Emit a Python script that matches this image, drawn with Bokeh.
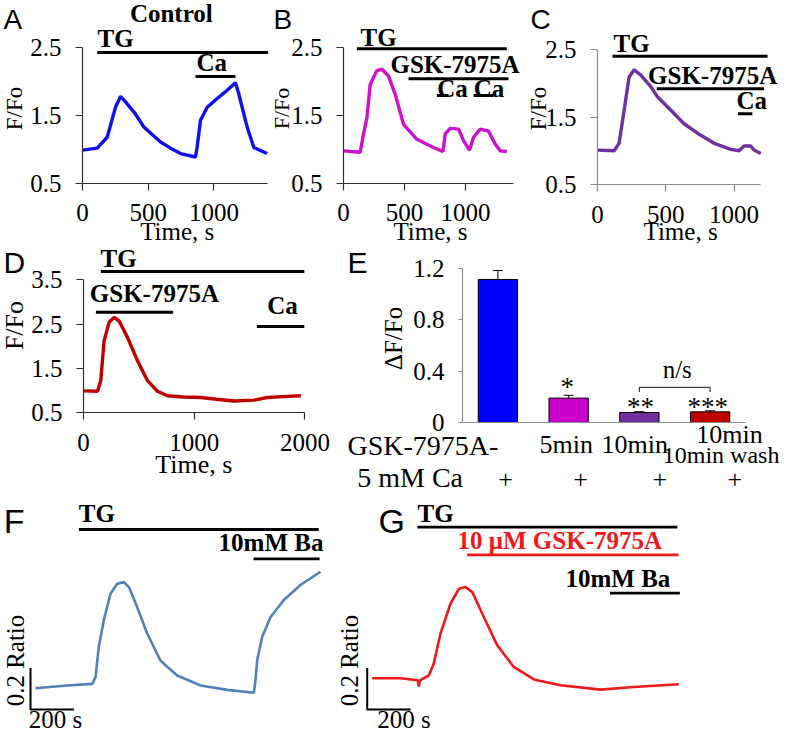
import math
from bokeh.plotting import figure
from bokeh.models import (Label, FixedTicker, Range1d, Whisker, TeeHead,
                          ColumnDataSource)
from bokeh.layouts import row, column
from bokeh.embed import file_html
from bokeh.resources import INLINE

SERIF = "Liberation Serif"
SANS = "Liberation Sans"

# ---------------- data ----------------
# Panel A (Control): time (s) vs F/Fo
A_time = [0, 112, 188, 251, 289, 327, 400, 467, 530, 594, 670, 746, 860, 872,
          898, 949, 1025, 1101, 1164, 1189, 1253, 1304, 1405]
A_ratio = [0.99, 1.02, 1.18, 1.62, 1.78, 1.70, 1.53, 1.33, 1.22, 1.11, 1.02,
           0.94, 0.89, 1.03, 1.43, 1.62, 1.75, 1.87, 1.98, 1.82, 1.33, 1.03, 0.94]
A_bar_text = ["TG", "Ca"]
A_bar_start = [112, 860]
A_bar_end = [1446, 1164]

# Panel B
B_time = [0, 137, 164, 192, 219, 274, 315, 369, 424, 492, 601, 738, 815, 834,
          875, 943, 984, 1033, 1066, 1121, 1189, 1243, 1285, 1339]
B_ratio = [0.98, 0.96, 1.23, 1.47, 1.96, 2.16, 2.18, 2.08, 1.81, 1.37, 1.15,
           1.03, 0.97, 1.23, 1.31, 1.30, 1.13, 0.99, 1.18, 1.30, 1.27, 1.08,
           0.98, 0.97]
B_bar_text = ["TG", "GSK-7975A", "Ca", "Ca"]
B_bar_start = [110, 533, 765, 1066]
B_bar_end = [1339, 1352, 861, 1230]

# Panel C
C_time = [0, 122, 158, 195, 231, 268, 317, 390, 439, 537, 634, 732, 854, 976,
          1037, 1073, 1122, 1146, 1195]
C_ratio = [1.01, 1.00, 1.11, 1.60, 2.09, 2.20, 2.12, 1.95, 1.80, 1.60, 1.40,
           1.26, 1.11, 1.02, 1.00, 1.07, 1.07, 1.01, 0.96]
C_bar_text = ["TG", "GSK-7975A", "Ca"]
C_bar_start = [110, 434, 1029]
C_bar_end = [1245, 1220, 1134]

# Panel D
D_time = [5, 126, 156, 186, 231, 276, 322, 397, 488, 578, 668, 759, 900, 1060,
          1200, 1360, 1541, 1662, 1800, 1963]
D_ratio = [0.99, 0.98, 1.22, 2.12, 2.54, 2.65, 2.57, 2.20, 1.67, 1.22, 0.98,
           0.88, 0.85, 0.84, 0.80, 0.76, 0.78, 0.84, 0.86, 0.88]
D_bar_text = ["TG", "GSK-7975A", "Ca"]
D_bar_start = [157, 112, 1566]
D_bar_end = [1995, 810, 1995]

# Panel E: bar chart (dF/Fo)
E_groups = ["Control", "5min", "10min", "10min wash"]
E_values = [1.115, 0.19, 0.078, 0.083]
E_errors = [0.07, 0.022, 0.006, 0.008]
E_colors = ["#0000ff", "#cc00cc", "#7030a0", "#c00000"]
E_stars = ["", "*", "**", "***"]

# Panel F (Ba, control) time (s) vs ratio
F_time = [0, 146, 262, 277, 292, 315, 346, 377, 408, 431, 469, 516, 577, 654,
          762, 885, 1008, 1015, 1023, 1046, 1085, 1146, 1223, 1315]
F_ratio = [0.80, 0.813, 0.821, 0.853, 0.998, 1.126, 1.254, 1.302, 1.310, 1.286,
           1.190, 1.062, 0.932, 0.861, 0.813, 0.792, 0.778, 0.838, 0.934, 1.046,
           1.142, 1.224, 1.296, 1.360]
F_bar_text = ["TG", "10mM Ba"]
F_bar_start = [200, 1006]
F_bar_end = [1307, 1311]

# Panel G (Ba + GSK-7975A)
G_time = [0, 131, 210, 215, 220, 261, 284, 315, 361, 400, 431, 462, 515, 577,
          653, 746, 869, 1054, 1207, 1415]
G_ratio = [0.80, 0.80, 0.79, 0.76, 0.79, 0.813, 0.870, 1.014, 1.158, 1.230,
           1.238, 1.214, 1.094, 0.958, 0.854, 0.794, 0.766, 0.745, 0.758, 0.771]
G_bar_text = ["TG", "10 \u03bcM GSK-7975A", "10mM Ba"]
G_bar_start = [208, 438, 1097]
G_bar_end = [1408, 1414, 1420]

SCALE_RATIO = 0.2
SCALE_TIME = 200


# ---------------- helpers ----------------
def make_fig(w, h, xr, yr, axes=True):
    kw = dict(width=w, height=h, x_range=Range1d(*xr), y_range=Range1d(*yr),
              output_backend="svg", toolbar_location=None,
              min_border_left=0, min_border_right=0,
              min_border_top=0, min_border_bottom=0)
    if not axes:
        kw.update(x_axis_location=None, y_axis_location=None)
    p = figure(**kw)
    p.outline_line_color = None
    p.grid.visible = False
    p.background_fill_color = "white"
    p.border_fill_color = "white"
    return p


def style_axes(p, xticks, xbounds, yticks, ybounds, color, yover=None,
               xfix=0, yfix=0.5, tick_out=7):
    xa, ya = p.xaxis[0], p.yaxis[0]
    for ax in (xa, ya):
        ax.axis_line_color = color
        ax.axis_line_width = 1.2
        ax.major_tick_line_color = color
        ax.major_tick_line_width = 1.2
        ax.major_tick_in = 0
        ax.major_tick_out = tick_out
        ax.minor_tick_line_color = None
        ax.major_label_text_font = SERIF
        ax.major_label_text_font_size = "25px"
        ax.major_label_text_color = "black"
    xa.fixed_location = yfix
    ya.fixed_location = xfix
    xa.ticker = FixedTicker(ticks=xticks)
    xa.bounds = xbounds
    xa.major_label_standoff = 14
    ya.ticker = FixedTicker(ticks=yticks)
    ya.bounds = ybounds
    ya.major_label_standoff = 14
    if yover:
        ya.major_label_overrides = yover
    return xa, ya


def lab(p, x, y, text, size=25, bold=False, font=SERIF, align="left",
        color="black", angle=0.0, baseline="alphabetic"):
    yoff = 0
    if baseline == "alphabetic":
        yoff = round((0.42 if bold else 0.36) * size)
    p.add_layout(Label(x=x, y=y, text=text, text_font=font,
                       text_font_size=f"{size}px",
                       text_font_style="bold" if bold else "normal",
                       text_align=align, text_baseline=baseline,
                       text_color=color, angle=angle, y_offset=yoff))


def bars(p, start, end, levels, color="black", width=3):
    p.segment(x0=start, x1=end, y0=levels, y1=levels, line_color=color,
              line_width=width, line_cap="butt")


ROT = math.pi / 2
TR_W = 3.4
DARK = "#303030"
GREY = "#8c8c8c"

# ---------------- Panel A ----------------
pA = make_fig(268, 246, (-624.0, 1415.5), (-0.4265, 3.191))
style_axes(pA, [0, 500, 1000], (0, 1408), [0.5, 1.5, 2.5], (0.5, 2.5), DARK)
pA.line(A_time, A_ratio, line_color="#1010ee", line_width=TR_W)
bars(pA, A_bar_start, A_bar_end, [2.426, 2.074])
lab(pA, 114, 2.481, A_bar_text[0], bold=True)
lab(pA, 868, 2.137, A_bar_text[1], bold=True)
lab(pA, 676, 2.853, "Control", bold=True, align="center")
lab(pA, -601, 2.765, "A", size=28, font=SANS)
lab(pA, -517, 1.603, "F/Fo", size=23, align="center", baseline="middle", angle=ROT)
lab(pA, 721, -0.338, "Time, s", size=25, align="center")

# ---------------- Panel B ----------------
pB = make_fig(259, 246, (-614.8, 1508.2), (-0.4265, 3.191))
style_axes(pB, [0, 500, 1000], (0, 1393), [0.5, 1.5, 2.5], (0.5, 2.5), DARK)
pB.line(B_time, B_ratio, line_color="#cc10cc", line_width=TR_W)
bars(pB, B_bar_start, B_bar_end, [2.481, 2.04, 1.794, 1.794])
lab(pB, 139, 2.504, B_bar_text[0], bold=True)
lab(pB, 385, 2.103, B_bar_text[1], bold=True)
lab(pB, 768, 1.757, B_bar_text[2], bold=True)
lab(pB, 1068, 1.757, B_bar_text[3], bold=True)
lab(pB, -574, 2.765, "B", size=28, font=SANS)
lab(pB, -508, 1.603, "F/Fo", size=22, align="center", baseline="middle", angle=ROT)
lab(pB, 713, -0.338, "Time, s", size=25, align="center")

# ---------------- Panel C ----------------
pC = make_fig(254, 246, (-512.4, 1347.0), (-0.4185, 3.226))
style_axes(pC, [0, 500, 1000], (0, 1195), [0.5, 1.5, 2.5], (0.5, 2.5), GREY)
pC.line(C_time, C_ratio, line_color="#7030a0", line_width=TR_W)
bars(pC, C_bar_start, C_bar_end, [2.401, 1.918, 1.547])
lab(pC, 117, 2.436, C_bar_text[0], bold=True)
lab(pC, 370, 1.967, C_bar_text[1], bold=True)
lab(pC, 1018, 1.596, C_bar_text[2], bold=True)
lab(pC, -490, 2.796, "C", size=28, font=SANS)
lab(pC, -432, 1.626, "F/Fo", size=23, align="center", baseline="middle", angle=ROT)
lab(pC, 608, -0.33, "Time, s", size=25, align="center")

# ---------------- Panel D ----------------
pD = make_fig(340, 252, (-749.8, 2321.6), (-1.4457, 4.2557))
style_axes(pD, [0, 1000, 2000], (0, 2000), [0.5, 1.5, 2.5, 3.5], (0.5, 3.5), DARK)
pD.line(D_time, D_ratio, line_color="#c00000", line_width=TR_W)
bars(pD, D_bar_start, D_bar_end, [3.69, 2.769, 2.446])
lab(pD, 154, 3.751, D_bar_text[0], bold=True)
lab(pD, 57, 2.959, D_bar_text[1], bold=True)
lab(pD, 1659, 2.695, D_bar_text[2], bold=True)
lab(pD, -723, 3.646, "D", size=30, font=SANS)
lab(pD, -623, 2.468, "F/Fo", size=26, align="center", baseline="middle", angle=ROT)
lab(pD, 996, -0.88, "Time, s", size=26, align="center")

# ---------------- Panel E ----------------
E_pos = [i + 0.5 for i in range(len(E_groups))]
srcE = ColumnDataSource(dict(
    x=E_pos, v=E_values, c=E_colors,
    up=[v + e for v, e in zip(E_values, E_errors)],
    lo=[v - e for v, e in zip(E_values, E_errors)]))
pE = make_fig(441, 252, (-1.7244, 4.5088), (-0.5924, 1.3718))
xa, ya = style_axes(pE, [], (0, len(E_groups)), [0, 0.4, 0.8, 1.2], (0, 1.2), GREY,
                    yover={0: "0", 0.4: "0.4", 0.8: "0.8", 1.2: "1.2"},
                    xfix=0, yfix=0, tick_out=4)
pE.vbar(x="x", top="v", width=0.555, source=srcE, fill_color="c",
        line_color="black", line_width=1)
pE.add_layout(Whisker(source=srcE, base="x", upper="up", lower="lo",
                      line_color="black", line_width=1,
                      upper_head=TeeHead(size=10, line_color="black", line_width=1),
                      lower_head=TeeHead(size=10, line_color="black", line_width=1)))
star_pos = [None, (1.48, 0.195), (2.516, 0.045), (3.467, 0.045)]
for s, pos in zip(E_stars, star_pos):
    if s:
        lab(pE, pos[0], pos[1], s, size=27, align="center")
pE.line(x=[E_pos[2], E_pos[2], E_pos[3], E_pos[3]],
        y=[0.238, 0.273, 0.273, 0.238], line_color="#404040", line_width=1.2)
lab(pE, 3.035, 0.343, "n/s", align="center")
lab(pE, -1.625, 1.16, "E", size=30, font=SANS)
lab(pE, -0.975, 0.655, "\u0394F/Fo", size=25, align="center", baseline="middle", angle=ROT)
lab(pE, -1.625, -0.257, "GSK-7975A-", size=28)
lab(pE, -1.488, -0.504, "5 mM Ca", size=28)
lab(pE, 1.467, -0.244, E_groups[1], size=26, align="center")
lab(pE, 2.435, -0.244, E_groups[2], size=26, align="center")
lab(pE, 3.774, -0.166, "10min", size=26, align="center")
lab(pE, 3.655, -0.32, E_groups[3], size=24, align="center")
for xp in [0.608, 1.668, 2.789, 3.849]:
    lab(pE, xp, -0.514, "+", size=26, align="center")

# ---------------- Panel F ----------------
pF = make_fig(336, 236, (-161.5, 1389.1), (0.5774, 1.712), axes=False)
pF.line(F_time, F_ratio, line_color="#4f81bd", line_width=2.6)
bars(pF, F_bar_start, F_bar_end, [1.563, 1.422], width=2.8)
lab(pF, 200, 1.592, F_bar_text[0], bold=True)
lab(pF, 845, 1.454, F_bar_text[1], bold=True)
lab(pF, -147, 1.544, "F", size=34, font=SANS)
sx, sy = -23, 0.6976
pF.line([sx, sx, sx + SCALE_TIME], [sy + SCALE_RATIO, sy, sy], line_color="black", line_width=2)
lab(pF, -92, 0.933, "0.2 Ratio", size=25, align="center", baseline="middle", angle=ROT)
lab(pF, -31, 0.6063, "200 s", size=25)

# ---------------- Panel G ----------------
pG = make_fig(445, 236, (-164.8, 1888.9), (0.5293, 1.664), axes=False)
pG.line(G_time, G_ratio, line_color="#f01818", line_width=2.6)
bars(pG, [G_bar_start[0], G_bar_start[2]], [G_bar_end[0], G_bar_end[2]], [1.526, 1.209], width=2.8)
bars(pG, [G_bar_start[1]], [G_bar_end[1]], [1.393], color="#f01818", width=2.8)
lab(pG, 209, 1.544, G_bar_text[0], bold=True)
lab(pG, 394, 1.414, G_bar_text[1], bold=True, color="#f01818")
lab(pG, 892, 1.23, G_bar_text[2], bold=True)
lab(pG, 29, 1.496, "G", size=34, font=SANS)
gx, gy = -23, 0.6495
pG.line([gx, gx, gx + SCALE_TIME], [gy + SCALE_RATIO, gy, gy], line_color="black", line_width=2)
lab(pG, -105, 0.885, "0.2 Ratio", size=25, align="center", baseline="middle", angle=ROT)
lab(pG, 23, 0.5582, "200 s", size=25)

layout = column(row(pA, pB, pC), row(pD, pE), row(pF, pG))
open("out.html", "w").write(file_html(layout, INLINE))
